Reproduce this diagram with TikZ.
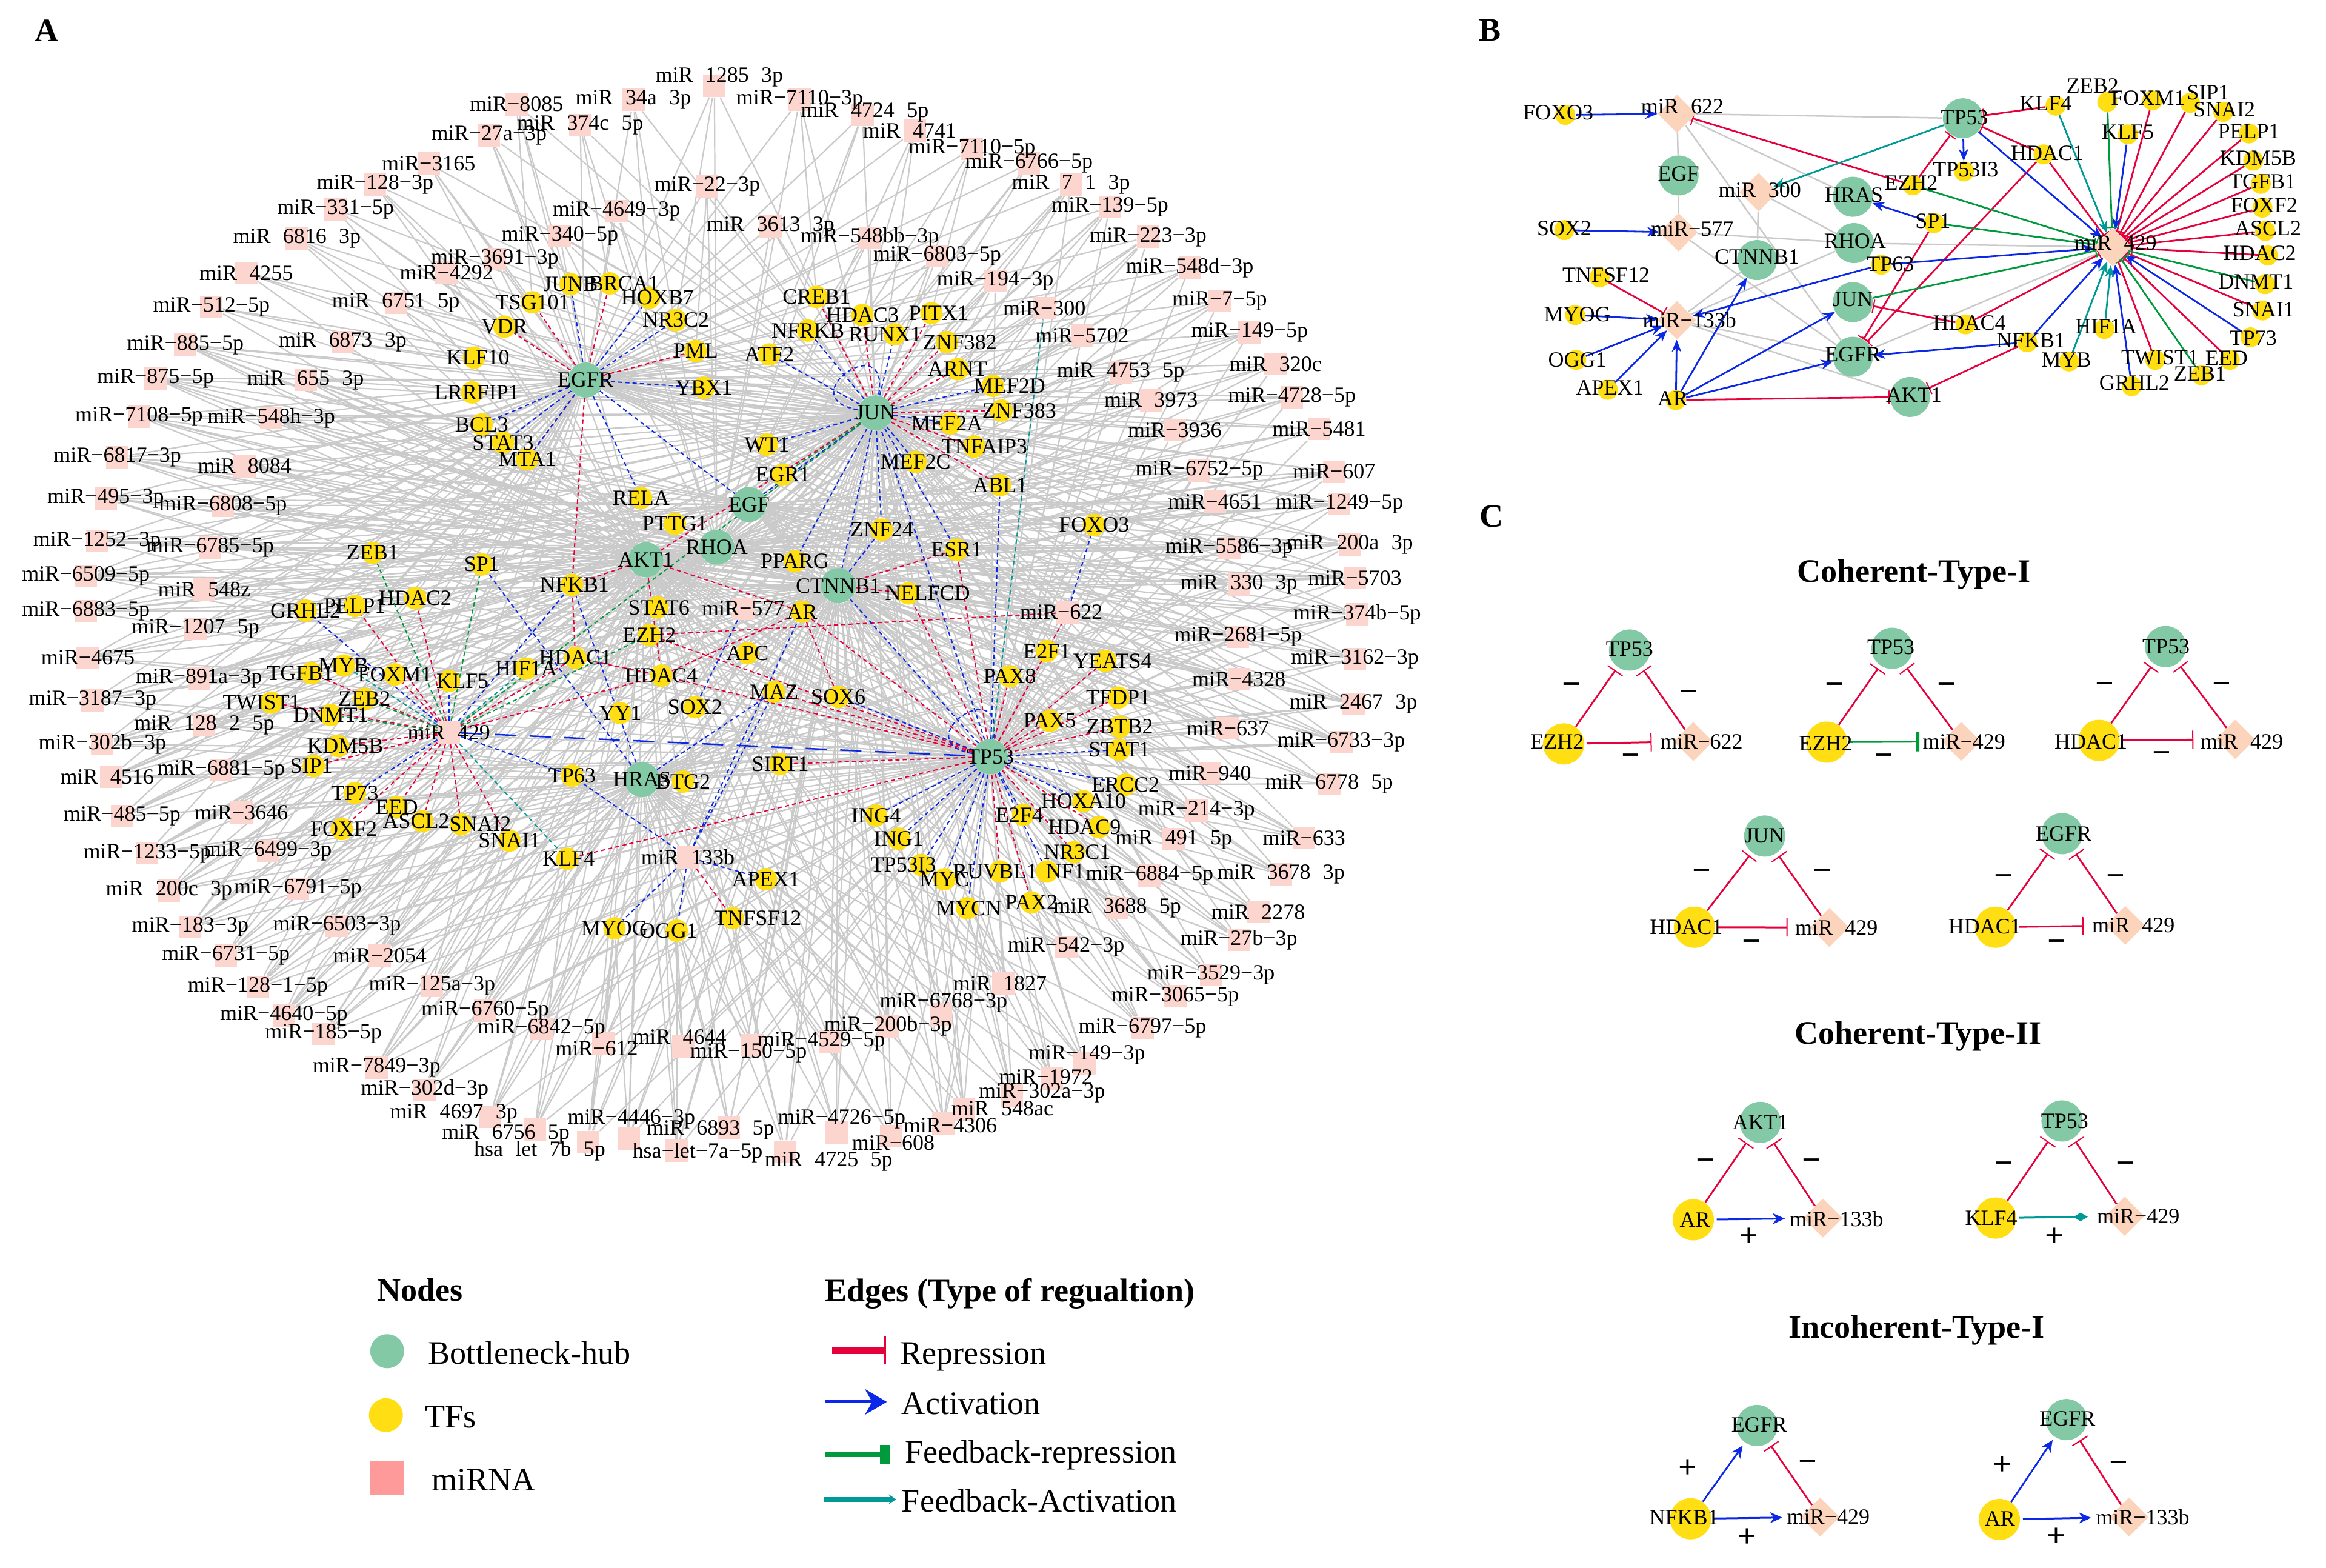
\documentclass[tikz,border=0pt]{standalone}
\usepackage{fontspec}
\setmainfont{Liberation Serif}
\usetikzlibrary{arrows.meta,shapes.geometric}
\pgfdeclarelayer{bg}\pgfsetlayers{bg,main}
\definecolor{hubc}{HTML}{83C9A5}\definecolor{tfy}{HTML}{FFDF13}\definecolor{sqc}{HTML}{FDD5CF}
\definecolor{diac}{HTML}{FBD4BB}\definecolor{legm}{HTML}{FF9A9A}\definecolor{rd}{HTML}{E6003C}
\definecolor{bl}{HTML}{0A28E6}\definecolor{gn}{HTML}{009A3C}\definecolor{tl}{HTML}{009A96}\definecolor{gy}{HTML}{CACACA}
\tikzset{
 sq/.style={rectangle,fill=sqc,minimum size=.37cm,inner sep=0},
 tfa/.style={circle,fill=tfy,minimum size=.37cm,inner sep=0},
 huba/.style={circle,fill=hubc,minimum size=.58cm,inner sep=0},
 tfb/.style={circle,fill=tfy,minimum size=.33cm,inner sep=0},
 hubb/.style={circle,fill=hubc,minimum size=.66cm,inner sep=0},
 diab/.style={diamond,fill=diac,minimum size=.64cm,inner sep=0},
 tfk/.style={circle,fill=tfy,minimum size=.68cm,inner sep=0},
 hubk/.style={circle,fill=hubc,minimum size=.68cm,inner sep=0},
 diak/.style={diamond,fill=diac,minimum size=.65cm,inner sep=0},
 lab/.style={inner sep=0,font=\fontsize{10.24}{12}\selectfont},
 big/.style={inner sep=0,yshift=-.03cm,font=\fontsize{15.4}{18}\selectfont},
 sgn/.style={inner sep=0,font=\fontsize{15.4}{18}\selectfont\bfseries},
 hd/.style={sgn,yshift=-.05cm},
 gre/.style={gy,line width=.022cm},
 da/.style={line width=.02cm,dash pattern=on .07cm off .05cm},
 ra/.style={da,rd},ba/.style={da,bl},ga/.style={da,gn},ta/.style={da,tl},
 bar/.style={-{Bar[width=.22cm,line width=.02cm]}},
 tip/.style={-{Stealth[length=.2cm,width=.16cm]}},
 rb/.style={rd,line width=.028cm,bar},
 bb/.style={bl,line width=.028cm,tip},
 gb/.style={gn,line width=.028cm,bar},
 tb/.style={tl,line width=.028cm,tip},
 gb2/.style={gy,line width=.025cm},
 ck/.style={rd,line width=.028cm,shorten >=.06cm,-{Bar[width=.3cm,line width=.02cm]}},
 ch/.style={rd,line width=.03cm,shorten >=.36cm,shorten <=.04cm,-{Bar[width=.3cm,line width=.02cm]}},
 bk/.style={bl,line width=.028cm,shorten >=.06cm,-{Stealth[length=.2cm,width=.18cm]}},
 bh/.style={bl,line width=.03cm,shorten >=.3cm,shorten <=.04cm,-{Stealth[length=.2cm,width=.18cm]}},
}
\newcommand\gp{\hspace{.564em}}
\newcommand\alllabels{}
\makeatletter
\newcommand\nd[7]{\node[#1] (#2) at (#3,#4) {};\coordinate (#2-c) at (#6,#7);\g@addto@macro\alllabels{\node[lab] (#2-t) at (#2-c) {#5};}}
\makeatother
\newcommand\mir[4]{\nd{sq}{#1}{#2}{#3}{#4}{#2}{#3}}
\newcommand\miro[6]{\nd{sq}{#1}{#2}{#3}{#4}{#5}{#6}}
\newcommand\tf[4]{\nd{tfa}{#1}{#2}{#3}{#4}{#2}{#3}}
\newcommand\tfo[5]{\nd{tfa}{#1}{#2}{#3}{#4}{#5}{#3}}
\newcommand\hb[4]{\nd{huba}{#1}{#2}{#3}{#4}{#2}{#3}}
\newcommand\fan[2]{\foreach \m in #1 {\foreach \t in {#2} {\draw[gre] (\m)--(\t);}}}
\def\grpTT{m1285,m34a,m374c,m7110a,m4724,m4741,m22,m3613,m4649,m548bb,m340,m7110b,m6766,m6803}
\def\grpTL{m8085,m27a,m3165,m128a,m331,m6816,m4255,m512,m3691,m4292,m6751,m6873}
\def\grpLL{m885,m875,m7108,m6817,m495,m1252,m6509,m655,m548h,m8084,m6808,m6785,m548z,m6883,m1207,m4675,m891a}
\def\grpBL{m3187,m128b,m302b,m4516,m6881,m485,m3646,m1233,m6499,m200c,m6791,m183,m6503,m6731,m2054,m128c,m125a,m4640}
\def\grpBB{m185,m6760,m6842,m612,m4644,m150,m4529,m200b,m6768,m1827,m7849,m302d,m4697,m6756,h7b,m4446,m6893,h7a,m4726,m4725,m608,m4306,m548ac,m302a,m1972,m149b,m6797,m542}
\def\grpBR{m3688,m6884,m491,m214,m940,m3678,m2278,m27b,m3529,m3065,m633,m6778}
\def\grpRR{m637,m4328,m2681,m622,m3162,m2467,m6733,m374b,m330,m5703,m5586,m200a,m4651,m1249,m6752,m607}
\def\grpTR{m71,m139,m223,m548d,m194,m300,m7,m149a,m5702,m320c,m4753,m3973,m4728,m3936,m5481}
\begin{document}
\begin{tikzpicture}
\useasboundingbox (0,-25.87) rectangle (38.38,0);
%---- panel A, upper left
\begin{scope}[x=.007972cm,y=-.006378cm]
\node[sgn] (lA) at (97,80) {A};
\miro{m1285}{1480}{222}{miR\gp 1285\gp 3p}{1490}{200}
\mir{m8085}{1070}{270}{miR−8085}
\mir{m34a}{1312}{258}{miR\gp 34a\gp 3p}
\mir{m374c}{1202}{323}{miR\gp 374c\gp 5p}
\mir{m27a}{1013}{350}{miR−27a−3p}
\mir{m3165}{888}{423}{miR−3165}
\mir{m128a}{777}{477}{miR−128−3p}
\mir{m331}{695}{541}{miR−331−5p}
\mir{m6816}{615}{617}{miR\gp 6816\gp 3p}
\mir{m4255}{510}{706}{miR\gp 4255}
\mir{m512}{438}{794}{miR−512−5p}
\mir{m885}{384}{892}{miR−885−5p}
\mir{m875}{322}{979}{miR−875−5p}
\mir{m7108}{288}{1078}{miR−7108−5p}
\mir{m6817}{243}{1183}{miR−6817−3p}
\mir{m495}{219}{1290}{miR−495−3p}
\mir{m1252}{201}{1400}{miR−1252−3p}
\mir{m6509}{178}{1490}{miR−6509−5p}
\mir{m22}{1465}{482}{miR−22−3p}
\mir{m4649}{1277}{547}{miR−4649−3p}
\mir{m340}{1160}{610}{miR−340−5p}
\mir{m3691}{1025}{670}{miR−3691−3p}
\mir{m4292}{925}{705}{miR−4292}
\mir{m6751}{820}{783}{miR\gp 6751\gp 5p}
\mir{m6873}{710}{885}{miR\gp 6873\gp 3p}
\mir{m655}{633}{983}{miR\gp 655\gp 3p}
\mir{m548h}{562}{1081}{miR−548h−3p}
\mir{m8084}{507}{1206}{miR\gp 8084}
\mir{m6808}{462}{1308}{miR−6808−5p}
\mir{m6785}{435}{1417}{miR−6785−5p}
\mir{m548z}{423}{1525}{miR\gp 548z}
\tf{tsg}{1103}{782}{TSG101}
\tf{junb}{1182}{735}{JUNB}
\tfo{brca}{1263}{733}{BRCA1}{1293}
\tfo{hoxb}{1345}{770}{HOXB7}{1362}
\tf{nr3c2}{1400}{828}{NR3C2}
\tf{vdr}{1045}{845}{VDR}
\tf{pml}{1441}{908}{PML}
\tfo{klf10}{982}{925}{KLF10}{990}
\tf{ybx}{1458}{1003}{YBX1}
\tfo{lrr}{978}{1015}{LRRFIP1}{988}
\tf{bcl3}{998}{1098}{BCL3}
\tf{stat3}{1042}{1145}{STAT3}
\tf{mta1}{1092}{1188}{MTA1}
\tf{rela}{1328}{1288}{RELA}
\tf{pttg}{1398}{1355}{PTTG1}
\tf{zeb1}{772}{1430}{ZEB1}
\tf{sp1}{998}{1460}{SP1}
\tfo{nfkb}{1185}{1513}{NFKB1}{1190}
\hb{egfr}{1213}{983}{EGFR}
\hb{rhoa}{1485}{1415}{RHOA}
\hb{akt1}{1338}{1448}{AKT1}
\end{scope}
%---- panel A, upper right
\begin{scope}[shift={(12cm,0cm)},x=.007972cm,y=-.006378cm]
\mir{m7110a}{150}{258}{miR−7110−3p}
\miro{m4724}{280}{297}{miR\gp 4724\gp 5p}{285}{290}
\miro{m4741}{388}{338}{miR\gp 4741}{378}{338}
\mir{m7110b}{507}{385}{miR−7110−5p}
\mir{m6766}{625}{423}{miR−6766−5p}
\mir{m71}{712}{477}{miR\gp 7\gp 1\gp 3p}
\mir{m139}{793}{535}{miR−139−5p}
\mir{m223}{872}{613}{miR−223−3p}
\mir{m548d}{958}{692}{miR−548d−3p}
\mir{m7}{1020}{778}{miR−7−5p}
\mir{m149a}{1082}{860}{miR−149−5p}
\mir{m320c}{1136}{942}{miR\gp 320c}
\mir{m4728}{1170}{1028}{miR−4728−5p}
\mir{m5481}{1226}{1110}{miR−5481}
\mir{m607}{1257}{1220}{miR−607}
\mir{m1249}{1268}{1303}{miR−1249−5p}
\mir{m200a}{1290}{1408}{miR\gp 200a\gp 3p}
\mir{m5703}{1300}{1495}{miR−5703}
\mir{m3613}{90}{585}{miR\gp 3613\gp 3p}
\mir{m548bb}{295}{615}{miR−548bb−3p}
\mir{m6803}{435}{662}{miR−6803−5p}
\mir{m194}{555}{727}{miR−194−3p}
\mir{m300}{657}{797}{miR−300}
\mir{m5702}{735}{868}{miR−5702}
\mir{m4753}{815}{963}{miR\gp 4753\gp 5p}
\mir{m3973}{878}{1035}{miR\gp 3973}
\mir{m3936}{927}{1113}{miR−3936}
\mir{m6752}{978}{1218}{miR−6752−5p}
\mir{m4651}{1010}{1298}{miR−4651}
\mir{m5586}{1040}{1418}{miR−5586−3p}
\mir{m330}{1060}{1512}{miR\gp 330\gp 3p}
\tf{creb}{185}{768}{CREB1}
\tf{hdac3}{280}{815}{HDAC3}
\tfo{pitx}{423}{810}{PITX1}{438}
\tf{nfrkb}{167}{855}{NFRKB}
\tfo{runx}{347}{865}{RUNX1}{327}
\tfo{zn382}{455}{885}{ZNF382}{482}
\tf{atf2}{87}{917}{ATF2}
\tf{arnt}{477}{955}{ARNT}
\tfo{mef2d}{550}{998}{MEF2D}{585}
\tfo{zn383}{568}{1062}{ZNF383}{605}
\tfo{mef2a}{462}{1095}{MEF2A}{455}
\tfo{tnfa}{512}{1155}{TNFAIP3}{533}
\tf{wt1}{82}{1150}{WT1}
\tf{egr1}{115}{1228}{EGR1}
\tf{mef2c}{390}{1195}{MEF2C}
\tf{abl1}{565}{1255}{ABL1}
\tf{znf24}{320}{1370}{ZNF24}
\tf{foxo3}{760}{1358}{FOXO3}
\tf{esr1}{475}{1422}{ESR1}
\tf{pparg}{140}{1452}{PPARG}
\tfo{nelf}{375}{1535}{NELFCD}{415}
\hb{egf}{45}{1305}{EGF}
\hb{jun}{307}{1068}{JUN}
\hb{ctnnb}{230}{1515}{CTNNB1}
\end{scope}
%---- panel A, lower left
\begin{scope}[shift={(0cm,-9.5cm)},x=.007972cm,y=-.006378cm]
\mir{m6883}{178}{92}{miR−6883−5p}
\mir{m1207}{405}{137}{miR−1207\gp 5p}
\mir{m4675}{182}{212}{miR−4675}
\mir{m891a}{412}{265}{miR−891a−3p}
\mir{m3187}{192}{322}{miR−3187−3p}
\mir{m128b}{423}{387}{miR\gp 128\gp 2\gp 5p}
\mir{m302b}{212}{435}{miR−302b−3p}
\miro{m4516}{230}{520}{miR\gp 4516}{222}{520}
\mir{m6881}{458}{502}{miR−6881−5p}
\mir{m485}{253}{622}{miR−485−5p}
\mir{m3646}{500}{612}{miR−3646}
\mir{m1233}{305}{718}{miR−1233−5p}
\mir{m6499}{555}{712}{miR−6499−3p}
\mir{m200c}{350}{815}{miR\gp 200c\gp 3p}
\mir{m6791}{617}{810}{miR−6791−5p}
\mir{m183}{394}{908}{miR−183−3p}
\mir{m6503}{698}{905}{miR−6503−3p}
\mir{m6731}{468}{982}{miR−6731−5p}
\mir{m2054}{787}{982}{miR−2054}
\mir{m128c}{534}{1064}{miR−128−1−5p}
\mir{m125a}{895}{1060}{miR−125a−3p}
\mir{m4640}{588}{1137}{miR−4640−5p}
\mir{m6760}{1005}{1125}{miR−6760−5p}
\mir{m185}{670}{1185}{miR−185−5p}
\mir{m6842}{1122}{1172}{miR−6842−5p}
\miro{m612}{1250}{1210}{miR−612}{1236}{1222}
\miro{m4644}{1415}{1218}{miR\gp 4644}{1408}{1192}
\mir{m7849}{780}{1272}{miR−7849−3p}
\mir{m302d}{880}{1330}{miR−302d−3p}
\miro{m4697}{1015}{1400}{miR\gp 4697\gp 3p}{940}{1392}
\miro{m6756}{1108}{1432}{miR\gp 6756\gp 5p}{1048}{1445}
\miro{m4446}{1302}{1455}{miR−4446−3p}{1308}{1405}
\miro{m6893}{1510}{1428}{miR\gp 6893\gp 5p}{1472}{1433}
\miro{h7a}{1402}{1487}{hsa−let−7a−5p}{1445}{1492}
\miro{h7b}{1218}{1465}{hsa\gp let\gp 7b\gp 5p}{1118}{1488}
\mir{mir429}{930}{405}{miR\gp 429}
\mir{mir133}{1425}{728}{miR\gp 133b}
\tf{hdac2}{860}{58}{HDAC2}
\tf{pelp}{735}{78}{PELP1}
\tf{grhl}{633}{90}{GRHL2}
\tfo{stat6}{1362}{82}{STAT6}{1365}
\tf{ezh2}{1345}{153}{EZH2}
\tf{hdac1}{1192}{212}{HDAC1}
\tf{hif1a}{1090}{240}{HIF1A}
\tf{hdac4}{1370}{258}{HDAC4}
\tf{myb}{712}{232}{MYB}
\tfo{tgfb}{645}{252}{TGFB1}{622}
\tf{foxm}{818}{255}{FOXM1}
\tfo{klf5}{930}{272}{KLF5}{958}
\tf{zeb2}{755}{318}{ZEB2}
\tfo{twist}{562}{328}{TWIST1}{542}
\tf{dnmt}{685}{360}{DNMT1}
\tf{yy1}{1285}{355}{YY1}
\tf{sox2}{1440}{340}{SOX2}
\tfo{kdm}{700}{440}{KDM5B}{715}
\tfo{sip1}{650}{492}{SIP1}{645}
\tf{tp63}{1185}{517}{TP63}
\tf{btg2}{1415}{532}{BTG2}
\tf{tp73}{735}{562}{TP73}
\tf{eed}{822}{598}{EED}
\tfo{ascl}{875}{635}{ASCL2}{862}
\tfo{snai2}{955}{643}{SNAI2}{995}
\tfo{foxf}{708}{655}{FOXF2}{712}
\tf{snai1}{1055}{685}{SNAI1}
\tfo{klf4}{1175}{732}{KLF4}{1178}
\tf{myog}{1273}{912}{MYOG}
\tfo{ogg1}{1402}{918}{OGG1}{1385}
\tfo{tnfs}{1518}{885}{TNFSF12}{1570}
\hb{hras}{1330}{527}{HRAS}
\end{scope}
%---- panel A, lower right
\begin{scope}[shift={(12cm,-9.5cm)},x=.007972cm,y=-.006378cm]
\miro{m622}{705}{95}{miR−622}{692}{93}
\mir{mir577}{33}{85}{miR−577}
\mir{m374b}{1305}{100}{miR−374b−5p}
\mir{m2681}{1058}{157}{miR−2681−5p}
\mir{m3162}{1300}{215}{miR−3162−3p}
\mir{m4328}{1060}{268}{miR−4328}
\mir{m2467}{1297}{332}{miR\gp 2467\gp 3p}
\mir{m637}{1037}{395}{miR−637}
\mir{m6733}{1272}{430}{miR−6733−3p}
\mir{m940}{1000}{510}{miR−940}
\mir{m6778}{1247}{538}{miR\gp 6778\gp 5p}
\mir{m214}{972}{608}{miR−214−3p}
\mir{m633}{1195}{678}{miR−633}
\mir{m491}{925}{682}{miR\gp 491\gp 5p}
\mir{m6884}{875}{775}{miR−6884−5p}
\mir{m3678}{1147}{772}{miR\gp 3678\gp 3p}
\mir{m3688}{808}{860}{miR\gp 3688\gp 5p}
\mir{m2278}{1100}{870}{miR\gp 2278}
\mir{m27b}{1060}{942}{miR−27b−3p}
\mir{m542}{702}{960}{miR−542−3p}
\mir{m3529}{1002}{1033}{miR−3529−3p}
\mir{m3065}{928}{1088}{miR−3065−5p}
\miro{m1827}{572}{1055}{miR\gp 1827}{565}{1055}
\miro{m6768}{442}{1135}{miR−6768−3p}{448}{1105}
\mir{m200b}{333}{1165}{miR−200b−3p}
\mir{m6797}{860}{1170}{miR−6797−5p}
\miro{m4529}{213}{1205}{miR−4529−5p}{195}{1205}
\miro{m150}{52}{1215}{miR−150−5p}{44}{1235}
\miro{m149b}{740}{1262}{miR−149−3p}{745}{1240}
\miro{m1972}{672}{1300}{miR−1972}{660}{1297}
\miro{m302a}{590}{1345}{miR−302a−3p}{652}{1338}
\miro{m548ac}{490}{1380}{miR\gp 548ac}{570}{1378}
\miro{m4306}{448}{1417}{miR−4306}{462}{1422}
\miro{m608}{340}{1450}{miR−608}{344}{1467}
\miro{m4726}{226}{1440}{miR−4726−5p}{237}{1405}
\miro{m4725}{120}{1490}{miR\gp 4725\gp 5p}{210}{1515}
\tf{ar}{155}{93}{AR}
\tf{apc}{42}{200}{APC}
\tf{pax8}{585}{260}{PAX8}
\tf{e2f1}{662}{195}{E2F1}
\tfo{yeats}{783}{220}{YEATS4}{798}
\tf{tfdp}{810}{315}{TFDP1}
\tf{maz}{97}{300}{MAZ}
\tf{sox6}{230}{313}{SOX6}
\tf{pax5}{668}{375}{PAX5}
\tf{zbtb}{813}{390}{ZBTB2}
\tf{stat1}{812}{450}{STAT1}
\tf{sirt}{110}{487}{SIRT1}
\tf{ercc}{825}{540}{ERCC2}
\tf{hoxa}{738}{583}{HOXA10}
\tfo{e2f4}{613}{618}{E2F4}{605}
\tf{ing4}{308}{620}{ING4}
\tfo{hdac9}{770}{650}{HDAC9}{740}
\tf{ing1}{355}{680}{ING1}
\tfo{nr3c1}{718}{715}{NR3C1}{725}
\tfo{tp53i}{402}{748}{TP53I3}{365}
\tfo{ruvb}{565}{765}{RUVBL1}{555}
\tfo{nf1}{662}{765}{NF1}{700}
\tfo{myc}{450}{785}{MYC}{450}
\tfo{mycn}{497}{860}{MYCN}{500}
\tf{pax2}{630}{845}{PAX2}
\tf{apex}{80}{785}{APEX1}
\hb{tp53}{545}{468}{TP53}
\end{scope}
%---- grey and coloured edges of panel A
\begin{pgfonlayer}{bg}
\fan{\grpTT}{egfr,jun,rhoa}
\fan{\grpTL}{egfr,jun,akt1}
\fan{\grpLL}{egfr,akt1,jun,tp53,rhoa,ctnnb,egf}
\fan{\grpBL}{akt1,hras,tp53,ctnnb,egfr,jun,rhoa}
\fan{\grpBB}{tp53,hras,akt1,ctnnb,jun}
\fan{\grpBR}{tp53,jun,ctnnb,akt1,egf}
\fan{\grpRR}{tp53,jun,ctnnb,egfr,rhoa,akt1,egf,hras}
\fan{\grpTR}{jun,tp53,ctnnb,egfr,rhoa}
\foreach \a/\b in {m8085/tsg,m27a/junb,m3165/tsg,m128a/vdr,m331/vdr,m6816/klf10,m4255/klf10,m512/lrr,m885/lrr,m875/bcl3,m374c/brca,m34a/hoxb,m1285/nr3c2,m22/pml,m4649/hoxb,m340/brca,m3613/creb,m548bb/nfrkb,m6803/hdac3,m7110a/creb,m4724/atf2,m4741/hdac3,m7110b/pitx,m6766/runx,m71/zn382,m139/arnt,m223/mef2d,m548d/mef2d,m7/zn383,m149a/mef2a,m320c/tnfa,m4728/abl1,m5481/abl1,m607/foxo3,m1249/foxo3,m200a/esr1,m5703/nelf,m374b/yeats,m3162/tfdp,m2467/zbtb,m6733/stat1,m6778/ercc,m633/hoxa,m3678/hdac9,m2278/nr3c1,m27b/nf1,m3529/pax2,m3065/pax2,m6797/pax2,m149b/mycn,m1972/myc,m302a/mycn,m548ac/myc,m4306/ruvb,m608/tnfs,m4725/tnfs,m4726/apex,h7a/ogg1,h7b/myog,m6893/ogg1,m4446/myog,m6756/klf4,m4697/klf4,m302d/snai1,m7849/snai1,m185/snai2,m4640/ascl,m128c/eed,m6731/tp73,m183/sip1,m200c/sip1,m1233/kdm,m485/dnmt,m4516/twist,m302b/zeb2,m3187/myb,m4675/tgfb,m6883/grhl,m6509/pelp,m1252/zeb1,m495/hdac2,m6817/sp1,m7108/bcl3,m612/myog,m4644/ogg1,m150/ogg1,m200b/tnfs,m6768/apex,m1827/sirt,m542/tp53i}{\draw[gre] (\a)--(\b);}
\foreach \a/\b in {egfr/tsg,egfr/brca,egfr/pml,egfr/vdr,egfr/mta1,egfr/nfkb,jun/creb,jun/hdac3,jun/pitx,jun/zn382,jun/arnt,jun/zn383,jun/tnfa,jun/abl1,jun/akt1,tp53/e2f1,tp53/yeats,tp53/pax5,tp53/tfdp,tp53/zbtb,tp53/hdac9,tp53/nr3c1,tp53/ruvb,tp53/pax2,tp53/sirt,tp53/maz,tp53/ar,tp53/m622,tp53/nelf,tp53/esr1,tp53/klf4,tp53/hdac4,tp53/ezh2,tp53/pax8,mir429/hdac2,mir429/pelp,mir429/tgfb,mir429/foxm,mir429/twist,mir429/kdm,mir429/sip1,mir429/eed,mir429/foxf,mir429/ascl,mir429/snai2,mir429/snai1,mir429/hdac1,mir429/hdac4,mir133/tnfs,m622/ezh2,akt1/nfkb,akt1/ar,hdac1/nfkb,esr1/ctnnb,ctnnb/nelf,hdac4/ar,sox6/ar,akt1/hdac4,hdac1/hdac4}{\draw[ra] (\a)--(\b);}
\foreach \a/\b in {egfr/junb,egfr/hoxb,egfr/nr3c2,egfr/bcl3,egfr/stat3,egfr/mta1,egfr/rela,egfr/egf,egfr/ybx,jun/nfrkb,jun/runx,jun/mef2d,jun/atf2,jun/mef2a,jun/mef2c,jun/esr1,jun/wt1,jun/ctnnb,jun/egf,jun/znf24,jun/pparg,tp53/stat1,tp53/ercc,tp53/hoxa,tp53/e2f4,tp53/nf1,tp53/mycn,tp53/myc,tp53/tp53i,tp53/ing1,tp53/ing4,tp53/sox6,tp53/ctnnb,tp53/abl1,tp53/jun,mir429/grhl,mir429/klf5,mir429/nfkb,mir429/tp73,mir429/tp63,mir133/myog,mir133/ogg1,mir133/apex,mir133/tp63,mir133/ar,m622/foxo3,mir577/sox2,hras/sp1,hras/nfkb,mir133/maz,ctnnb/znf24,hras/maz}{\draw[ba] (\a)--(\b);}
\draw[bl,line width=.025cm,dash pattern=on .35cm off .22cm] (mir429)--(tp53);
\draw[ba] (jun) to[out=170,in=80,looseness=7] (jun);
\draw[ba] (tp53) to[out=170,in=80,looseness=7] (tp53);
\foreach \a/\b in {mir429/zeb1,mir429/zeb2,mir429/dnmt,mir429/sp1,mir429/ezh2,mir429/jun,jun/egr1}{\draw[ga] (\a)--(\b);}
\foreach \a/\b in {mir429/myb,mir429/hif1a,mir429/klf4,tp53/m300}{\draw[ta] (\a)--(\b);}
\end{pgfonlayer}
%---- panel B
\begin{scope}[shift={(24.3cm,0cm)},x=.00898cm,y=-.005102cm]
\node[sgn] (lB) at (32,97) {B};
\nd{tfb}{bfoxo}{170}{372}{FOXO3}{157}{365}
\nd{diab}{b622}{375}{368}{miR\gp 622}{385}{345}
\nd{hubb}{begf}{378}{568}{EGF}{378}{562}
\nd{tfb}{bsox2}{168}{745}{SOX2}{168}{740}
\nd{diab}{b577}{378}{752}{miR−577}{403}{742}
\nd{diab}{b300}{525}{622}{miR\gp 300}{527}{615}
\nd{hubb}{bhras}{698}{637}{HRAS}{700}{632}
\nd{hubb}{brhoa}{700}{787}{RHOA}{702}{780}
\nd{hubb}{bctn}{522}{842}{CTNNB1}{522}{832}
\nd{tfb}{btnf}{233}{898}{TNFSF12}{245}{890}
\nd{tfb}{bmyog}{188}{1020}{MYOG}{192}{1018}
\nd{diab}{b133}{375}{1037}{miR−133b}{398}{1037}
\nd{tfb}{bogg}{190}{1165}{OGG1}{192}{1165}
\nd{tfb}{bapex}{248}{1262}{APEX1}{252}{1255}
\nd{tfb}{bar1}{373}{1295}{AR}{367}{1290}
\nd{hubb}{bjun}{698}{978}{JUN}{698}{970}
\nd{hubb}{begfr}{698}{1155}{EGFR}{698}{1147}
\nd{hubb}{bakt}{803}{1285}{AKT1}{810}{1278}
\nd{hubb}{btp53}{900}{383}{TP53}{903}{380}
\nd{tfb}{bklf4}{1070}{342}{KLF4}{1052}{335}
\nd{tfb}{bzeb2}{1165}{330}{ZEB2}{1138}{278}
\nd{tfb}{bfoxm}{1248}{325}{FOXM1}{1240}{318}
\nd{tfb}{bsip}{1317}{333}{SIP1}{1350}{300}
\nd{tfb}{bsn2}{1378}{362}{SNAI2}{1380}{355}
\nd{tfb}{bklf5}{1203}{435}{KLF5}{1203}{428}
\nd{tfb}{bpelp}{1425}{432}{PELP1}{1425}{425}
\nd{tfb}{bkdm}{1433}{520}{KDM5B}{1442}{512}
\nd{tfb}{btgfb}{1447}{595}{TGFB1}{1450}{588}
\nd{tfb}{bfoxf}{1450}{672}{FOXF2}{1453}{665}
\nd{tfb}{bascl}{1455}{748}{ASCL2}{1460}{740}
\nd{tfb}{bhd2}{1460}{827}{HDAC2}{1445}{820}
\nd{tfb}{bdnmt}{1455}{920}{DNMT1}{1438}{912}
\nd{tfb}{bsn1}{1450}{1005}{SNAI1}{1452}{1002}
\nd{tfb}{btp73}{1428}{1092}{TP73}{1433}{1095}
\nd{tfb}{beed}{1390}{1165}{EED}{1384}{1160}
\nd{tfb}{bzeb1}{1338}{1215}{ZEB1}{1335}{1210}
\nd{tfb}{btw}{1253}{1165}{TWIST1}{1262}{1158}
\nd{tfb}{bgrhl}{1210}{1250}{GRHL2}{1215}{1240}
\nd{tfb}{bmyb}{1095}{1170}{MYB}{1090}{1165}
\nd{tfb}{bhif}{1160}{1065}{HIF1A}{1163}{1057}
\nd{tfb}{bnfkb}{1018}{1108}{NFKB1}{1025}{1102}
\nd{tfb}{bhd4}{905}{1050}{HDAC4}{912}{1045}
\nd{tfb}{bhd1}{1048}{500}{HDAC1}{1055}{495}
\nd{tfb}{bi3}{902}{555}{TP53I3}{905}{548}
\nd{tfb}{bezh}{808}{600}{EZH2}{805}{592}
\nd{tfb}{bsp1}{847}{722}{SP1}{845}{715}
\nd{tfb}{btp63}{750}{857}{TP63}{767}{855}
\nd{diab}{b429}{1175}{800}{miR\gp 429}{1180}{787}
\end{scope}
\begin{pgfonlayer}{bg}
\foreach \a/\b in {b622/btp53,b622/begf,b622/bhras,b622/begfr,begf/b577,b577/brhoa,brhoa/b429,b577/begfr,b300/bctn,b300/brhoa,b133/brhoa,b133/bctn,b133/begfr,b133/bakt,begfr/b429}{\draw[gb2] (\a)--(\b);}
\foreach \a/\b in {btnf/b133,bezh/b622,bezh/btp53,bklf4/btp53,bhd1/btp53,bhd1/begfr,bsp1/begfr,bhd4/bjun,bnfkb/bakt,bar1/bakt,bhd1/b429,bfoxm/b429,bsip/b429,bsn2/b429,bpelp/b429,bkdm/b429,btgfb/b429,bfoxf/b429,bascl/b429,bhd2/b429,bsn1/b429,beed/b429,btw/b429,bhd4/b429}{\draw[rb] (\a)--(\b);}
\foreach \a/\b in {bfoxo/b622,bsox2/b577,bmyog/b133,bogg/b133,bapex/b133,bar1/b133,bar1/bctn,bar1/bjun,bar1/begfr,btp63/b133,btp63/b429,bsp1/bhras,bnfkb/begfr,bnfkb/b429,btp53/bi3,btp53/b429,bklf5/b429,bgrhl/b429,btp73/b429}{\draw[bb] (\a)--(\b);}
\foreach \a/\b in {bezh/b429,bsp1/b429,bjun/b429,bdnmt/b429,bzeb1/b429,bzeb2/b429}{\draw[gb] (\a)--(\b);}
\foreach \a/\b in {btp53/b300,bklf4/b429,bhif/b429,bmyb/b429}{\draw[tb] (\a)--(\b);}
\end{pgfonlayer}
%---- panel C, first rows
\begin{scope}[shift={(24.3cm,-8.2cm)},x=.00898cm,y=-.00574cm]
\node[sgn] (lC) at (35,55) {C};
\node[hd] (t1) at (810,213) {Coherent-Type-I};
\nd{hubk}{a1}{288}{440}{TP53}{288}{437}
\nd{tfk}{a2}{167}{710}{EZH2}{155}{703}
\nd{diak}{a3}{405}{703}{miR−622}{420}{703}
\nd{hubk}{d1}{770}{435}{TP53}{768}{432}
\nd{tfk}{d2}{650}{705}{EZH2}{648}{708}
\nd{diak}{d3}{897}{703}{miR−429}{902}{703}
\nd{hubk}{e1}{1272}{430}{TP53}{1273}{430}
\nd{tfk}{e2}{1150}{700}{HDAC1}{1135}{703}
\nd{diak}{e3}{1400}{697}{miR\gp 429}{1412}{703}
\nd{hubk}{f1}{536}{975}{JUN}{536}{975}
\nd{tfk}{f2}{407}{1237}{HDAC1}{392}{1237}
\nd{diak}{f3}{655}{1238}{miR\gp 429}{668}{1238}
\nd{hubk}{k1}{1082}{968}{EGFR}{1085}{968}
\nd{tfk}{k2}{960}{1237}{HDAC1}{940}{1235}
\nd{diak}{k3}{1198}{1232}{miR\gp 429}{1213}{1232}
\foreach \x/\y [count=\i] in {181/552,397/572,290/755,664/552,870/552,755/755,1160/550,1375/550,1265/748,421/1087,642/1087,512/1290,975/1102,1180/1102,1073/1290}{\node[sgn] (sm\i) at (\x,\y) {−};}
\end{scope}
\begin{scope}[shift={(24.3cm,-16.8cm)},x=.00898cm,y=-.005784cm]
\node[hd] (t2) at (818,42) {Coherent-Type-II};
\node[hd] (t3) at (815,882) {Incoherent-Type-I};
\nd{hubk}{g1}{528}{297}{AKT1}{528}{297}
\nd{tfk}{g2}{405}{575}{AR}{408}{575}
\nd{diak}{g3}{643}{570}{miR−133b}{668}{572}
\nd{hubk}{h1}{1082}{293}{TP53}{1087}{293}
\nd{tfk}{h2}{960}{570}{KLF4}{952}{570}
\nd{diak}{h3}{1197}{565}{miR−429}{1222}{565}
\nd{hubk}{m1}{522}{1162}{EGFR}{526}{1160}
\nd{tfk}{m2}{400}{1428}{NFKB1}{388}{1425}
\nd{diak}{m3}{638}{1423}{miR−429}{653}{1423}
\nd{hubk}{n1}{1090}{1145}{EGFR}{1092}{1142}
\nd{tfk}{n2}{967}{1430}{AR}{968}{1428}
\nd{diak}{n3}{1205}{1423}{miR−133b}{1230}{1423}
\foreach \x/\y [count=\i] in {427/417,622/417,976/427,1198/427,615/1278,1186/1280}{\node[sgn] (sn\i) at (\x,\y) {−};}
\foreach \x/\y [count=\i] in {507/624,1068/624,395/1285,504/1483,972/1277,1071/1480}{\node[sgn] (sp\i) at (\x,\y) {+};}
\end{scope}
\begin{pgfonlayer}{bg}
\foreach \t in {a,d,e,f,k,g,h}{\draw[ck] (\t2)--(\t1);\draw[ck] (\t3)--(\t1);}
\foreach \t in {m,n}{\draw[bk] (\t2)--(\t1);\draw[ck] (\t3)--(\t1);}
\foreach \t in {a,e,f,k}{\draw[ch] (\t2)--(\t3);}
\draw[gn,line width=.03cm,shorten >=.36cm,shorten <=.04cm,-{Bar[width=.32cm,line width=.06cm]}] (d2)--(d3);
\foreach \t in {g,m,n}{\draw[bh] (\t2)--(\t3);}
\draw[tl,line width=.03cm,shorten >=.28cm,shorten <=.04cm,-{Diamond[length=.24cm,width=.14cm]}] (h2)--(h3);
\end{pgfonlayer}
%---- legend
\begin{scope}[shift={(5cm,-19cm)},x=.010846cm,y=-.004382cm]
\node[sgn] (ln) at (178,520) {Nodes};
\node[hd] (le) at (1075,525) {Edges (Type of regualtion)};
\node[circle,fill=hubc,minimum size=.56cm,inner sep=0] (l1) at (128,752) {};
\node[big,anchor=west] (l1t) at (190,752) {Bottleneck-hub};
\node[circle,fill=tfy,minimum size=.56cm,inner sep=0] (l2) at (126,993) {};
\node[big,anchor=west] (l2t) at (185,993) {TFs};
\node[rectangle,fill=legm,minimum size=.56cm,inner sep=0] (l3) at (128,1230) {};
\node[big,anchor=west] (l3t) at (195,1230) {miRNA};
\coordinate (r1) at (805,749);\coordinate (r2) at (887,749);
\coordinate (a1c) at (795,943);\coordinate (a2c) at (888,943);
\coordinate (g1c) at (795,1140);\coordinate (g2c) at (892,1140);
\coordinate (t1c) at (792,1310);\coordinate (t2c) at (902,1310);
\draw[rd,line width=.12cm,-{Bar[width=.46cm,line width=.035cm]}] (r1)--(r2);
\draw[bl,line width=.05cm,-{Stealth[length=.36cm,width=.42cm]}] (a1c)--(a2c);
\draw[gn,line width=.09cm,-{Bar[width=.31cm,line width=.16cm]}] (g1c)--(g2c);
\draw[tl,line width=.08cm,-{Stealth[length=.12cm,width=.16cm]}] (t1c)--(t2c);
\node[big,anchor=west] (lr) at (908,766) {Repression};
\node[big,anchor=west] (la) at (910,943) {Activation};
\node[big,anchor=west] (lg) at (915,1135) {Feedback-repression};
\node[big,anchor=west] (lt) at (910,1308) {Feedback-Activation};
\end{scope}
\alllabels
\end{tikzpicture}
\end{document}
